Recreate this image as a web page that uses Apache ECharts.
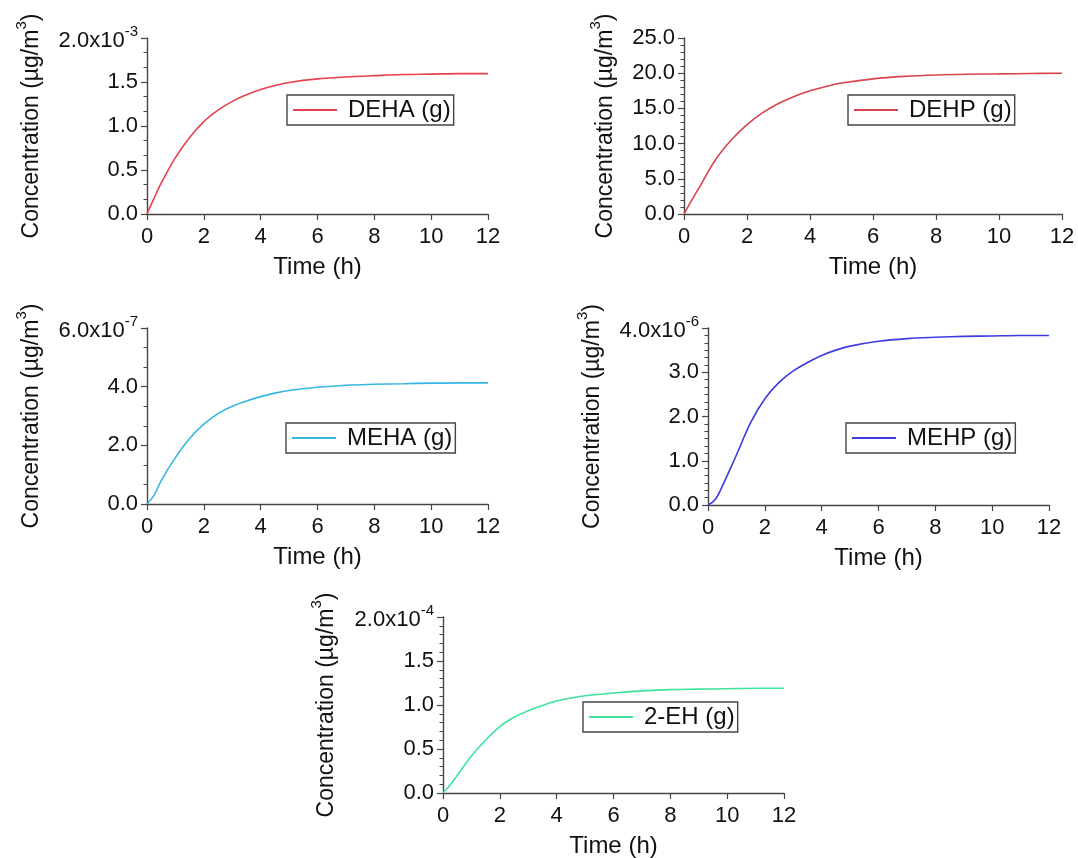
<!DOCTYPE html>
<html>
<head>
<meta charset="utf-8">
<script src="https://cdn.jsdelivr.net/npm/echarts@6/dist/echarts.min.js"></script>
<style>
  html, body { margin: 0; padding: 0; background: #fff; }
  #chart { width: 1078px; height: 858px; }
</style>
</head>
<body>
<div id="chart"></div>
<script>
// time axis (h), shared by all five curves
const timeH = [0, 0.25, 0.5, 1, 1.5, 2, 2.5, 3, 3.5, 4, 4.5, 5, 6, 7, 8, 9, 10, 11, 12]

// concentrations, in units of the exponent shown on each top tick
const dehaConc = [0, 0.18, 0.35, 0.64, 0.87, 1.05, 1.18, 1.28, 1.355, 1.415, 1.46, 1.495, 1.535, 1.557, 1.572, 1.585, 1.59, 1.595, 1.595] // x10^-3
const dehpConc = [0, 2.0, 3.9, 7.7, 10.5, 12.7, 14.4, 15.7, 16.7, 17.5, 18.1, 18.6, 19.2, 19.55, 19.75, 19.85, 19.9, 19.95, 20.0]
const mehaConc = [0, 0.3, 0.8, 1.58, 2.23, 2.72, 3.08, 3.33, 3.51, 3.66, 3.78, 3.87, 3.98, 4.05, 4.08, 4.1, 4.12, 4.13, 4.13] // x10^-7
const mehpConc = [0, 0.12, 0.42, 1.13, 1.86, 2.4, 2.77, 3.03, 3.22, 3.38, 3.5, 3.59, 3.7, 3.76, 3.79, 3.81, 3.82, 3.83, 3.83] // x10^-6
const ehConc = [0, 0.09, 0.2, 0.42, 0.6, 0.755, 0.86, 0.935, 0.995, 1.045, 1.08, 1.105, 1.137, 1.16, 1.175, 1.18, 1.185, 1.19, 1.19] // x10^-4

const seriesNames = ['DEHA (g)', 'DEHP (g)', 'MEHA (g)', 'MEHP (g)', '2-EH (g)']
const seriesData = [dehaConc, dehpConc, mehaConc, mehpConc, ehConc]

// y axis ticks: max, step, exponent on the top label
const yMax = [2, 25, 6, 4, 2]
const yStep = [0.5, 5, 2, 1, 0.5]
const yExp = ['-3', '', '-7', '-6', '-4']
const xMax = 12
const xStep = 2

// layout of each panel (px)
const panels = [
  { grid: [147, 38, 341, 176], legend: [287, 95], nameGap: 104, minor: 3, color: '#e8414d' },
  { grid: [684, 38, 378, 176], legend: [848, 95], nameGap: 67, minor: 5, color: '#d9434e' },
  { grid: [147, 328, 341, 176], legend: [286, 423], nameGap: 104, minor: 3, color: '#35b6e3' },
  { grid: [708, 328, 341, 177], legend: [846, 423], nameGap: 104, minor: 6, color: '#3b3be0' },
  { grid: [443, 617, 341, 176], legend: [583, 702], nameGap: 105, minor: 5, color: '#3ee39c' }
]

const FONT = 'Liberation Sans, Arial, sans-serif'
const axisCol = '#454545'

let myChart = echarts.init(document.getElementById('chart'))

const grid = []
const xAxis = []
const yAxis = []
const legend = []
const series = []

panels.forEach((p, i) => {
  grid.push({
    left: p.grid[0], top: p.grid[1], width: p.grid[2], height: p.grid[3],
    containLabel: false, outerBoundsMode: 'none'
  })
  xAxis.push({
    type: 'value', gridIndex: i, min: 0, max: xMax, interval: xStep,
    name: 'Time (h)', nameLocation: 'middle', nameGap: 41,
    nameTextStyle: { fontFamily: FONT, fontSize: 24, color: '#111' },
    axisLine: { show: true, lineStyle: { color: axisCol, width: 1.4 } },
    axisTick: { show: true, length: 6, lineStyle: { color: axisCol, width: 1.2 } },
    axisLabel: { fontFamily: FONT, fontSize: 22, color: '#111', margin: 12 },
    splitLine: { show: false }
  })
  const top = yMax[i]
  const exp = yExp[i]
  yAxis.push({
    type: 'value', gridIndex: i, min: 0, max: top, interval: yStep[i],
    name: '{a|Concentration (µg/m}{s|3}{a|)}',
    nameLocation: 'middle', nameRotate: 90, nameGap: p.nameGap,
    nameTextStyle: {
      color: '#111',
      rich: {
        a: { fontFamily: FONT, fontSize: 23, color: '#111', verticalAlign: 'bottom' },
        s: { fontFamily: FONT, fontSize: 15, color: '#111', verticalAlign: 'bottom', padding: [0, 0, 14, 0] }
      }
    },
    axisLine: { show: true, lineStyle: { color: axisCol, width: 1.4 } },
    axisTick: { show: true, length: 6, lineStyle: { color: axisCol, width: 1.2 } },
    minorTick: { show: true, splitNumber: p.minor, length: 3.5, lineStyle: { color: axisCol, width: 1 } },
    axisLabel: {
      margin: 9,
      fontFamily: FONT, fontSize: 22, color: '#111',
      formatter: v => {
        if (exp && Math.abs(v - top) < 1e-9) return '{b|' + v.toFixed(1) + 'x10}{s|' + exp + '}'
        return '{b|' + v.toFixed(1) + '}'
      },
      rich: {
        b: { fontFamily: FONT, fontSize: 22, color: '#111', verticalAlign: 'bottom' },
        s: { fontFamily: FONT, fontSize: 15, color: '#111', verticalAlign: 'bottom', padding: [0, 0, 13, 0] }
      }
    },
    splitLine: { show: false }
  })
  legend.push({
    data: [seriesNames[i]],
    left: p.legend[0], top: p.legend[1],
    orient: 'vertical',
    icon: 'rect', itemWidth: 44, itemHeight: 2,
    padding: [3, 3, 3, 6],
    borderColor: axisCol, borderWidth: 1.4,
    textStyle: { fontFamily: FONT, fontSize: 24, color: '#111', padding: [0, 0, 0, 6] }
  })
  series.push({
    name: seriesNames[i],
    type: 'line',
    xAxisIndex: i, yAxisIndex: i,
    data: timeH.map((t, k) => [t, seriesData[i][k]]),
    smooth: 0.35,
    showSymbol: false, symbol: 'none',
    lineStyle: { color: p.color, width: 1.6 },
    itemStyle: { color: p.color }
  })
})

myChart.setOption({
  animation: false,
  backgroundColor: '#fff',
  grid, xAxis, yAxis, legend, series
})
</script>
</body>
</html>
